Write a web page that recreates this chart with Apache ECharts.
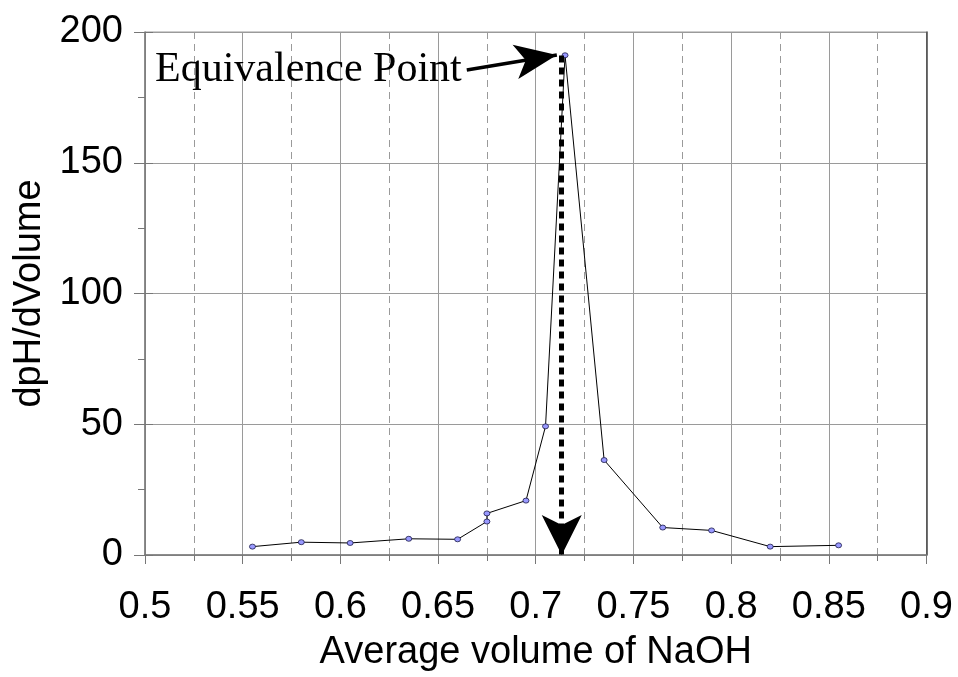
<!DOCTYPE html>
<html>
<head>
<meta charset="utf-8">
<script src="https://cdn.jsdelivr.net/npm/echarts@6/dist/echarts.min.js"></script>
<style>
  html, body { margin: 0; padding: 0; background: #fff; }
  #chart { width: 958px; height: 677px; }
</style>
</head>
<body>
<div id="chart"></div>
<script>
// datos
const volumes = [0.555, 0.58, 0.605, 0.635, 0.66, 0.675, 0.675, 0.695, 0.705, 0.715, 0.735, 0.765, 0.79, 0.82, 0.855];
const dpHdV = [3.2, 4.9, 4.6, 6.2, 6.0, 12.8, 15.9, 20.8, 49.2, 191.1, 36.3, 10.5, 9.4, 3.2, 3.7];

// anotaciones (en unidades de los ejes)
const eqLabelAt = [0.6647, 185.5];
const eqArrowTip = [0.7108, 191.2];
const dropX = 0.7133;
const dropFrom = 191;
const dropTo = 0;

const chart = echarts.init(document.getElementById('chart'));
const sans = 'Liberation Sans, Arial, sans-serif';
const grey = '#9a9a9a';

const option = {
  animation: false,
  grid: { left: 145, right: 31.5, top: 32, bottom: 118.3, show: true, borderColor: grey, borderWidth: 1 },
  xAxis: {
    type: 'value',
    min: 0.5, max: 0.9, interval: 0.05,
    name: 'Average volume of NaOH',
    nameLocation: 'middle',
    nameGap: 79,
    nameTextStyle: { fontFamily: sans, fontSize: 38, color: '#000' },
    axisLine: { show: true, onZero: false, lineStyle: { color: '#777', width: 1.5 } },
    axisTick: { show: true, length: 9, lineStyle: { color: '#777' } },
    minorTick: { show: true, splitNumber: 2, length: 6, lineStyle: { color: '#777' } },
    axisLabel: { fontFamily: sans, fontSize: 38, color: '#000', margin: 34,
      formatter: v => String(+v.toFixed(2)) },
    splitLine: { show: true, lineStyle: { color: grey, width: 1 } },
    minorSplitLine: { show: true, lineStyle: { color: grey, width: 1, type: [7, 5] } }
  },
  yAxis: [
    {
      type: 'value',
      min: 0, max: 200, interval: 50,
      name: 'dpH/dVolume',
      nameLocation: 'middle',
      nameGap: 96,
      nameTextStyle: { fontFamily: sans, fontSize: 38, color: '#000' },
      axisLine: { show: true, lineStyle: { color: '#777', width: 1.5 } },
      axisTick: { show: true, length: 11, lineStyle: { color: '#777' } },
      minorTick: { show: true, splitNumber: 2, length: 7, lineStyle: { color: '#777' } },
      axisLabel: { fontFamily: sans, fontSize: 38, color: '#000', margin: 22 },
      splitLine: { show: true, lineStyle: { color: grey, width: 1 } }
    },
    {
      type: 'value', position: 'left',
      min: 0, max: 200, interval: 50,
      axisLine: { show: false },
      axisTick: { show: true, inside: true, length: 8, lineStyle: { color: '#777' } },
      axisLabel: { show: false },
      splitLine: { show: false }
    },
    {
      type: 'value', position: 'right',
      min: 0, max: 200, interval: 50,
      axisLine: { show: true, lineStyle: { color: '#444', width: 1.5 } },
      axisTick: { show: false },
      axisLabel: { show: false },
      splitLine: { show: false }
    }
  ],
  series: [{
    type: 'line',
    data: volumes.map((v, i) => [v, dpHdV[i]]),
    symbol: 'circle',
    symbolSize: [6, 5],
    itemStyle: { color: '#9999ff', borderColor: '#1a1a4a', borderWidth: 0.8 },
    lineStyle: { color: '#000', width: 1 },
    markLine: {
      silent: true,
      animation: false,
      label: { show: false },
      data: [
        [
          { coord: [dropX, dropFrom], symbol: 'none',
            lineStyle: { color: '#000', width: 5, type: [7, 5] } },
          { coord: [dropX, dropTo], symbol: 'arrow', symbolSize: [30, 40] }
        ],
        [
          { coord: eqLabelAt, symbol: 'none',
            lineStyle: { color: '#000', width: 3.5, type: 'solid' } },
          { coord: eqArrowTip, symbol: 'arrow', symbolSize: [26, 42] }
        ]
      ],
      itemStyle: { color: '#000' }
    },
    markPoint: {
      silent: true,
      data: [{
        coord: eqLabelAt,
        symbol: 'circle',
        symbolSize: 0,
        label: {
          show: true,
          position: 'left',
          distance: 5,
          formatter: 'Equivalence Point',
          fontFamily: 'Liberation Serif, Times New Roman, serif',
          fontSize: 42,
          color: '#000'
        }
      }]
    }
  }]
};

chart.setOption(option);
</script>
</body>
</html>
